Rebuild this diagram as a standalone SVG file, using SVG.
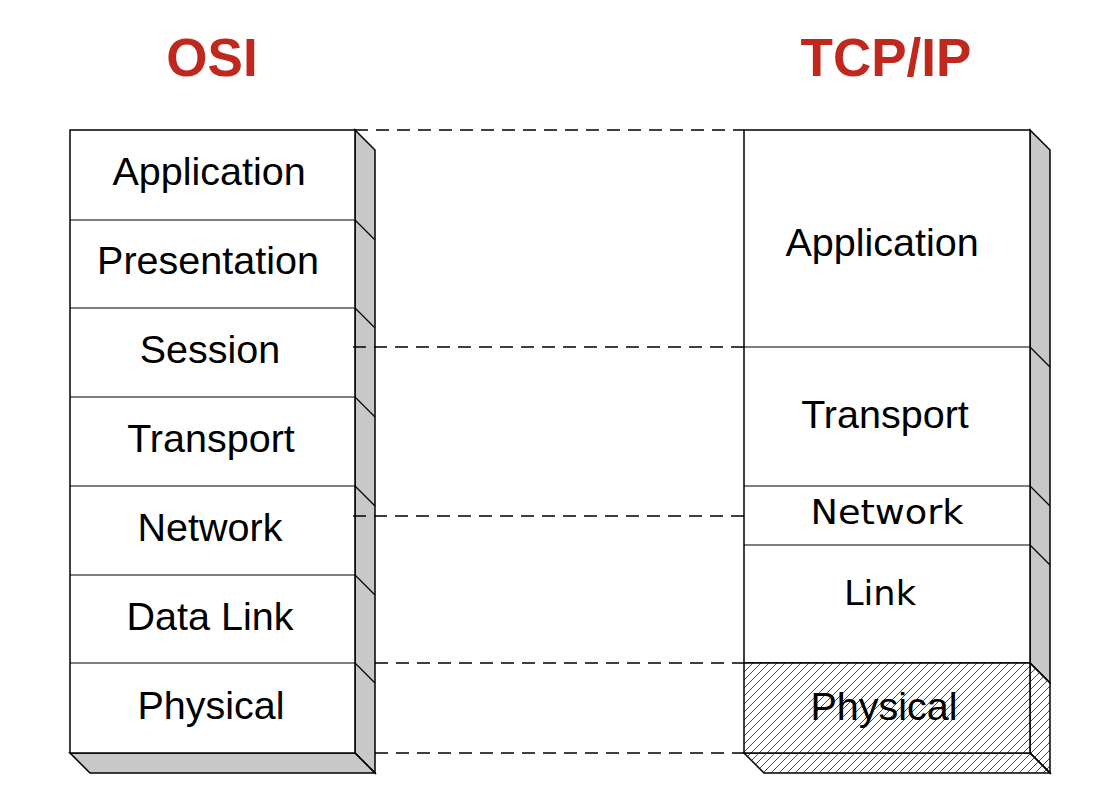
<svg xmlns="http://www.w3.org/2000/svg" width="1104" height="810" viewBox="0 0 1104 810">
<style>
.box{fill:#fff;stroke:#000;stroke-width:1.5}
.side{fill:#c8c8c8;stroke:#000;stroke-width:1.5;stroke-linejoin:miter}
.hatch{fill:url(#hatch);stroke:#000;stroke-width:1.5}
.edge{stroke:#000;stroke-width:1.2;fill:none}
.dash{stroke:#000;stroke-width:1.3;stroke-dasharray:13 8;fill:none}
.lbl{font-family:"Liberation Sans",Arial,sans-serif;font-size:39.5px;fill:#000;text-anchor:middle}
.comic{font-family:"Comic Sans MS","DejaVu Sans",sans-serif;font-size:34px;fill:#000;text-anchor:middle}
.title{font-family:"Liberation Sans",Arial,sans-serif;font-weight:bold;font-size:53px;fill:#c0281e;text-anchor:middle}
</style>
<defs>
<pattern id="hatch" patternUnits="userSpaceOnUse" width="8" height="8">
<rect width="8" height="8" fill="#fff"/>
<path d="M-2,2 L2,-2 M0,8 L8,0 M6,10 L10,6" stroke="#333" stroke-width="0.9"/>
</pattern>
</defs>
<rect width="1104" height="810" fill="#fff"/>
<g id="titles">
<text class="title" x="212" y="76">OSI</text>
<text class="title" x="886" y="76">TCP/IP</text>
</g>
<g id="osi-stack">
<polygon class="side" points="355,130 375,150 375,773 355,753"/>
<polygon class="side" points="70,753 355,753 375,773 90,773"/>
<rect class="box" x="70" y="130" width="285" height="623"/>
<path class="edge" d="M70,220H355M70,308H355M70,397H355M70,486H355M70,575H355M70,663H355"/>
<path class="edge" d="M355,220l20,20M355,308l20,20M355,397l20,20M355,486l20,20M355,575l20,20M355,663l20,20M355,753l20,20"/>
</g>
<g id="osi-application"><text class="lbl" x="209" y="185">Application</text></g>
<g id="osi-presentation"><text class="lbl" x="208" y="274">Presentation</text></g>
<g id="osi-session"><text class="lbl" x="210" y="363">Session</text></g>
<g id="osi-transport"><text class="lbl" x="211" y="452">Transport</text></g>
<g id="osi-network"><text class="lbl" x="210" y="541">Network</text></g>
<g id="osi-datalink"><text class="lbl" x="210" y="630">Data Link</text></g>
<g id="osi-physical"><text class="lbl" x="211" y="719">Physical</text></g>
<g id="tcp-stack">
<polygon class="side" points="1030,130 1050,150 1050,683 1030,663"/>
<polygon class="hatch" points="1030,663 1050,683 1050,773 1030,753"/>
<polygon class="hatch" points="744,753 1030,753 1050,773 764,773"/>
<rect class="box" x="744" y="130" width="286" height="533"/>
<rect class="hatch" x="744" y="663" width="286" height="90"/>
<path class="edge" d="M744,347H1030M744,486H1030M744,545H1030"/>
<path class="edge" d="M1030,347l20,20M1030,486l20,20M1030,545l20,20M1030,663l20,20M1030,753l20,20"/>
</g>
<g id="tcp-application"><text class="lbl" x="882" y="256">Application</text></g>
<g id="tcp-transport"><text class="lbl" x="885" y="428">Transport</text></g>
<g id="tcp-network"><text class="comic" x="887" y="524" textLength="153" lengthAdjust="spacingAndGlyphs">Network</text></g>
<g id="tcp-link"><text class="comic" x="880" y="605" textLength="72" lengthAdjust="spacingAndGlyphs">Link</text></g>
<g id="tcp-physical"><text class="lbl" x="884" y="720">Physical</text></g>
<g id="connectors">
<path class="dash" d="M355,130H744"/>
<path class="dash" d="M353,347H744"/>
<path class="dash" d="M353,516H744"/>
<path class="dash" d="M375,663H744"/>
<path class="dash" d="M375,753H744"/>
</g>
</svg>
